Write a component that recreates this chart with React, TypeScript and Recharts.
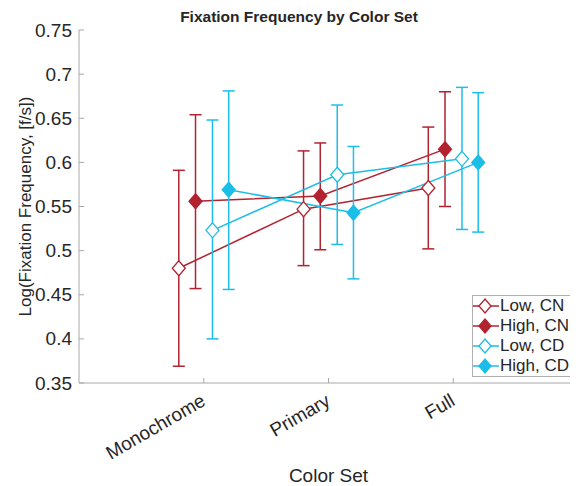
import React from "react"
import { ComposedChart, Line, XAxis, YAxis, ErrorBar } from "recharts"

const categories = ["Monochrome", "Primary", "Full"]
const yTicks = [0.35, 0.4, 0.45, 0.5, 0.55, 0.6, 0.65, 0.7, 0.75]

const lowCN = [0.48, 0.547, 0.571]
const lowCNLower = [0.369, 0.483, 0.502]
const lowCNUpper = [0.591, 0.613, 0.64]

const highCN = [0.556, 0.562, 0.615]
const highCNLower = [0.457, 0.501, 0.55]
const highCNUpper = [0.654, 0.622, 0.68]

const lowCD = [0.523, 0.586, 0.604]
const lowCDLower = [0.4, 0.507, 0.524]
const lowCDUpper = [0.648, 0.665, 0.685]

const highCD = [0.569, 0.543, 0.6]
const highCDLower = [0.456, 0.468, 0.521]
const highCDUpper = [0.681, 0.618, 0.679]

const RED = "#b3222f"
const CYAN = "#1cbee8"
const FONT = "'Liberation Sans', Arial, sans-serif"
const TEXT = "#262626"
const AXIS = "#a8a8a8"

function build(vals: number[], lo: number[], hi: number[], offset: number) {
  return vals.map((v, i) => ({
    x: i + 1 + offset,
    y: v,
    err: [v - lo[i], hi[i] - v],
  }))
}

const series = [
  { name: "Low, CN", color: RED, filled: false, data: build(lowCN, lowCNLower, lowCNUpper, -0.2) },
  { name: "High, CN", color: RED, filled: true, data: build(highCN, highCNLower, highCNUpper, -0.066) },
  { name: "Low, CD", color: CYAN, filled: false, data: build(lowCD, lowCDLower, lowCDUpper, 0.07) },
  { name: "High, CD", color: CYAN, filled: true, data: build(highCD, highCDLower, highCDUpper, 0.2) },
]

function Diamond({ cx, cy, color, filled, w = 6.5, h = 7.5 }: any) {
  return (
    <path
      d={`M${cx},${cy - h} L${cx + w},${cy} L${cx},${cy + h} L${cx - w},${cy} Z`}
      fill={filled ? color : "#fff"}
      stroke={color}
      strokeWidth={1.3}
    />
  )
}

function YTick({ x, y, payload }: any) {
  return (
    <g>
      <line x1={x + 7} y1={y} x2={x + 12} y2={y} stroke={AXIS} />
      <text x={x} y={y} dy={6.5} textAnchor="end" fontSize={19} fill={TEXT} fontFamily={FONT}>
        {payload.value}
      </text>
    </g>
  )
}

function XTick({ x, y, payload }: any) {
  const label = categories[payload.value - 1]
  const tx = x + 3
  const ty = y + 21.5
  return (
    <g>
      <line x1={x} y1={y} x2={x} y2={y - 5} stroke={AXIS} />
      <text
        x={tx}
        y={ty}
        transform={`rotate(-30 ${tx} ${ty})`}
        textAnchor="end"
        fontSize={19}
        fill={TEXT}
        fontFamily={FONT}
      >
        {label}
      </text>
    </g>
  )
}

function LegendBox() {
  return (
    <div
      style={{
        position: "absolute",
        left: 464,
        top: 287,
        width: 101,
        border: "1px solid #b0b0b0",
        background: "#fff",
        fontFamily: FONT,
        fontSize: 17,
        color: TEXT,
      }}
    >
      {series.map((s) => (
        <div key={s.name} style={{ display: "flex", alignItems: "center", height: 20 }}>
          <svg width={27} height={18} style={{ flex: "none" }}>
            <line x1={0} y1={9} x2={26} y2={9} stroke={s.color} strokeWidth={1.5} />
            <Diamond cx={12} cy={9} color={s.color} filled={s.filled} w={6} h={7} />
          </svg>
          <span style={{ whiteSpace: "nowrap" }}>{s.name}</span>
        </div>
      ))}
    </div>
  )
}

export default function App() {
  return (
    <div style={{ position: "relative", width: 570, height: 478 }}>
      <div
        style={{
          position: "absolute",
          left: 0,
          width: 582,
          top: 0,
          textAlign: "center",
          fontFamily: FONT,
          fontWeight: "bold",
          fontSize: 15.5,
          color: TEXT,
          lineHeight: "18px",
        }}
      >
        Fixation Frequency by Color Set
      </div>
      <ComposedChart width={570} height={478} margin={{ top: 22, right: 0, bottom: 0, left: 0 }}>
        <XAxis
          type="number"
          dataKey="x"
          domain={[0, 4]}
          ticks={[1, 2, 3]}
          tick={<XTick />}
          tickSize={0}
          tickMargin={0}
          height={103}
          stroke={AXIS}
          allowDataOverflow
          label={{
            value: "Color Set",
            position: "insideBottom",
            offset: 4,
            fontSize: 19,
            fill: TEXT,
            fontFamily: FONT,
          }}
        />
        <YAxis
          type="number"
          domain={[0.35, 0.75]}
          ticks={yTicks}
          tick={<YTick />}
          tickSize={0}
          tickMargin={7}
          width={71}
          stroke={AXIS}
          allowDataOverflow
          label={{
            value: "Log(Fixation Frequency, [f/s])",
            angle: -90,
            position: "center",
            dx: -19,
            fontSize: 17,
            fill: TEXT,
            fontFamily: FONT,
          }}
        />
        {series.map((s) => (
          <Line
            key={s.name}
            data={s.data}
            dataKey="y"
            name={s.name}
            type="linear"
            stroke={s.color}
            strokeWidth={1.5}
            isAnimationActive={false}
            dot={(p: any) => (
              <Diamond key={`${s.name}-${p.index}`} cx={p.cx} cy={p.cy} color={s.color} filled={s.filled} />
            )}
            activeDot={false}
          >
            <ErrorBar dataKey="err" direction="y" width={6} stroke={s.color} strokeWidth={1.5} isAnimationActive={false} />
          </Line>
        ))}
      </ComposedChart>
      <LegendBox />
    </div>
  )
}
